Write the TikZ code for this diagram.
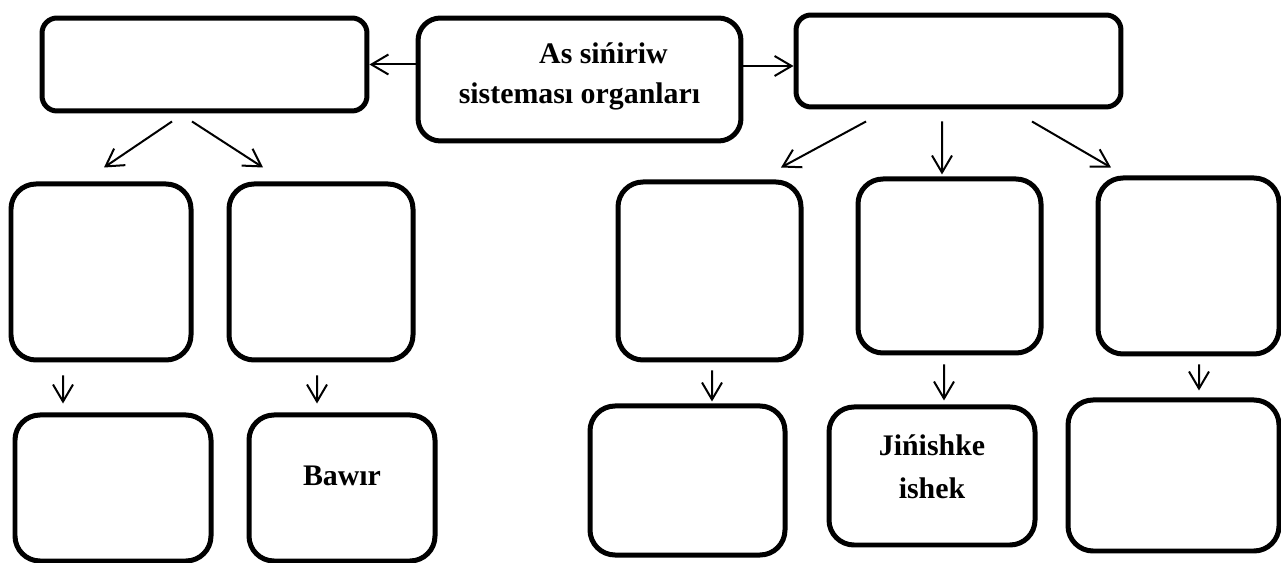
\documentclass[tikz,border=0pt]{standalone}
\usepackage{fontspec}
\setmainfont{Liberation Serif}
\usetikzlibrary{positioning,calc,arrows.meta}

\tikzset{
  organbox/.style={draw=black,line width=0.1cm,rounded corners=0.5cm,inner sep=0pt},
  boxtext/.style={font=\bfseries\fontsize{17}{23}\selectfont,align=center,inner sep=0pt},
  linkarrow/.style={-{Straight Barb[length=0.34cm,width=0.4cm]},line width=0.04cm}
}

\begin{document}
\begin{tikzpicture}[x=0.02cm,y=-0.02cm]
  \useasboundingbox (0,0) rectangle (1281,563);
  % top row
  \node[organbox,rounded corners=0.45cm,minimum width=6.46cm,minimum height=2.46cm] (organs) at (579.5,79.5) {};
  \node[organbox,rounded corners=0.3cm,minimum width=6.5cm,minimum height=1.86cm] (lefthead) at (204.5,64.5) {};
  \node[organbox,rounded corners=0.3cm,minimum width=6.5cm,minimum height=1.84cm] (righthead) at (958.5,61) {};
  % lower rows
  \foreach \n/\x/\y/\w/\h in {
    l1/101/272/180/176, l2/321/272/184/176, l3/113/488/196/146, l4/342/488/186/146,
    r1/709.5/271/183/178, r2/949.5/266/183/174, r3/1188.5/266/181/176,
    r4/687.5/480.5/195/149, r5/932/476/206/138, r6/1173.5/475.5/211/151}
    \node[organbox,minimum width=0.02cm*\w,minimum height=0.02cm*\h] (\n) at (\x,\y) {};
  % texts
  \node[boxtext] (organstext) at ([yshift=0.06cm]organs.center) {\hspace*{0.96cm}As sińiriw\\sisteması organları};
  \node[boxtext] (bawirtext) at ([yshift=0.24cm]l4.center) {Bawır};
  \node[boxtext,font=\bfseries\fontsize{17}{24.5}\selectfont] (ishektext) at ([yshift=0.19cm]r5.center) {Jińishke\\ishek};
  % arrows
  \draw[linkarrow] (organs.west |- lefthead.east) -- (lefthead.east);
  \draw[linkarrow] ([yshift=-0.1cm]organs.east |- righthead.west) -- ([yshift=-0.1cm]righthead.west);
  \draw[linkarrow] ([xshift=-0.65cm,yshift=-0.16cm]lefthead.south) -- ([xshift=0.06cm,yshift=0.28cm]l1.north);
  \draw[linkarrow] ([xshift=-0.25cm,yshift=-0.16cm]lefthead.south) -- ([xshift=-1.16cm,yshift=0.28cm]l2.north);
  \draw[linkarrow] ([xshift=-1.85cm,yshift=-0.24cm]righthead.south) -- ([xshift=1.43cm,yshift=0.24cm]r1.north);
  \draw[linkarrow] ([xshift=-0.33cm,yshift=-0.24cm]righthead.south) -- ([xshift=-0.15cm,yshift=0.04cm]r2.north);
  \draw[linkarrow] ([xshift=1.47cm,yshift=-0.24cm]righthead.south) -- ([xshift=-1.55cm,yshift=0.16cm]r3.north);
  \draw[linkarrow] ([xshift=-0.76cm,yshift=-0.26cm]l1.south) -- ([xshift=-1.0cm,yshift=0.18cm]l3.north);
  \draw[linkarrow] ([xshift=-0.08cm,yshift=-0.26cm]l2.south) -- ([xshift=-0.5cm,yshift=0.18cm]l4.north);
  \draw[linkarrow] ([xshift=0.05cm,yshift=-0.16cm]r1.south) -- ([xshift=0.49cm,yshift=0.04cm]r4.north);
  \draw[linkarrow] ([xshift=-0.11cm,yshift=-0.18cm]r2.south) -- ([xshift=0.24cm,yshift=0.08cm]r5.north);
  \draw[linkarrow] ([xshift=0.21cm,yshift=-0.16cm]r3.south) -- ([xshift=0.51cm,yshift=0.14cm]r6.north);
\end{tikzpicture}
\end{document}
